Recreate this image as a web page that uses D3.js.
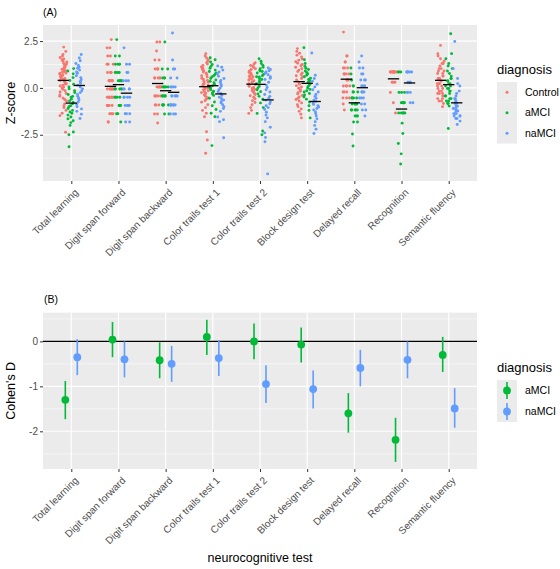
<!DOCTYPE html>
<html><head><meta charset="utf-8">
<script src="https://cdn.jsdelivr.net/npm/d3@7"></script>
<style>body{margin:0;background:#fff;} text{font-family:"Liberation Sans",Arial,sans-serif;}</style>
</head><body><svg id="chart" width="560" height="569"></svg>
<script>
const tests = ["Total learning","Digit span forward","Digit span backward","Color trails test 1","Color trails test 2","Block design test","Delayed recall","Recognition","Semantic fluency"];
const groups = ["Control","aMCI","naMCI"];
const groupColors = ["#F8766D","#00BA38","#619CFF"];
const zTicks = [2.5, 0, -2.5];
const dTicks = [0, -1, -2];

// Panel A: individual z-scores per test (same order as tests)
const zControl = [
 [2.18,1.95,1.78,1.7,1.62,1.55,1.5,1.42,1.38,1.3,1.28,1.2,1.15,1.12,1.05,1.0,0.98,0.92,0.88,0.85,0.8,0.78,0.72,0.7,0.65,0.6,0.58,0.52,0.5,0.45,0.4,0.38,0.32,0.28,0.22,0.2,0.15,0.1,0.05,0.0,-0.08,-0.15,-0.22,-0.3,-0.38,-0.45,-0.55,-0.62,-0.7,-0.85,-0.95,-1.05,-1.2,-1.35,-1.48,-2.37],
 [2.58,2.14,2.14,1.7,1.7,1.26,1.26,1.26,0.82,0.82,0.82,0.82,0.82,0.38,0.38,0.38,0.38,0.38,0.38,0.38,-0.06,-0.06,-0.06,-0.06,-0.06,-0.06,-0.06,-0.06,-0.5,-0.5,-0.5,-0.5,-0.5,-0.5,-0.5,-0.5,-0.94,-0.94,-0.94,-0.94,-0.94,-1.38,-1.38,-1.38,-1.82,-1.82],
 [2.45,2.45,1.97,1.49,1.49,1.01,1.01,1.01,1.01,0.53,0.53,0.53,0.53,0.53,0.05,0.05,0.05,0.05,0.05,0.05,-0.43,-0.43,-0.43,-0.43,-0.43,-0.91,-0.91,-0.91,-1.39,-1.39,-1.87],
 [1.83,1.7,1.6,1.5,1.42,1.35,1.28,1.2,1.12,1.05,0.98,0.9,0.85,0.78,0.7,0.65,0.58,0.52,0.45,0.4,0.35,0.3,0.25,0.2,0.15,0.1,0.05,0.0,-0.05,-0.1,-0.15,-0.2,-0.25,-0.3,-0.38,-0.45,-0.52,-0.6,-0.68,-0.76,-0.9,-1.05,-1.2,-1.35,-1.54,-2.34,-2.78,-3.49],
 [1.35,1.28,1.2,1.15,1.1,1.02,0.98,0.92,0.88,0.82,0.78,0.72,0.68,0.62,0.58,0.52,0.48,0.42,0.38,0.32,0.28,0.22,0.18,0.12,0.08,0.02,-0.02,-0.08,-0.12,-0.18,-0.22,-0.28,-0.35,-0.42,-0.5,-0.58,-0.68,-0.78,-0.9,-1.05,-1.2,-1.36],
 [2.1,1.95,1.85,1.75,1.65,1.55,1.48,1.4,1.32,1.25,1.18,1.1,1.02,0.95,0.88,0.8,0.72,0.65,0.58,0.5,0.42,0.35,0.28,0.2,0.12,0.05,-0.02,-0.1,-0.18,-0.25,-0.32,-0.4,-0.48,-0.55,-0.62,-0.7,-0.8,-0.9,-1.0,-1.12,-1.25,-1.4,-1.6],
 [2.98,1.7,1.7,1.38,1.38,1.06,1.06,1.06,0.74,0.74,0.74,0.74,0.42,0.42,0.42,0.42,0.1,0.1,0.1,0.1,-0.22,-0.22,-0.22,-0.54,-0.54,-0.54,-0.86,-1.18],
 [0.85,0.85,0.85,0.85,0.85,0.85,0.85,0.85,0.85,0.85,0.85,0.85,0.3,0.3,0.3,-0.24,-0.79,-1.34],
 [2.27,1.83,1.7,1.56,1.43,1.3,1.3,1.17,1.03,1.03,0.9,0.9,0.77,0.77,0.63,0.63,0.5,0.5,0.5,0.37,0.37,0.23,0.23,0.23,0.1,0.1,-0.03,-0.03,-0.17,-0.17,-0.3,-0.3,-0.3,-0.43,-0.57,-0.57,-0.7,-0.7,-0.83,-1.0]
];
const zAMCI = [
 [1.03,0.9,0.75,0.55,0.4,0.2,0.05,-0.05,-0.15,-0.25,-0.35,-0.45,-0.5,-0.6,-0.7,-0.78,-0.85,-0.95,-1.0,-1.1,-1.2,-1.28,-1.35,-1.45,-1.55,-1.65,-1.75,-1.85,-2.0,-2.35,-2.5,-3.14],
 [2.58,1.7,1.7,1.26,1.26,1.26,0.82,0.82,0.82,0.82,0.38,0.38,0.38,0.38,0.38,-0.06,-0.06,-0.06,-0.06,-0.06,-0.5,-0.5,-0.5,-0.5,-0.94,-0.94,-0.94,-1.38,-1.38,-1.82],
 [2.45,1.01,1.01,0.53,0.53,0.53,0.05,0.05,0.05,0.05,0.05,-0.43,-0.43,-0.43,-0.43,-0.43,-0.43,-0.91,-0.91,-0.91,-0.91,-0.91,-1.39,-1.39],
 [1.61,1.5,1.38,1.25,1.15,1.05,0.95,0.88,0.8,0.72,0.65,0.58,0.5,0.42,0.35,0.28,0.2,0.12,0.05,-0.02,-0.1,-0.18,-0.25,-0.32,-0.4,-0.55,-0.75,-0.95,-1.15,-1.35,-1.54,-3.08],
 [1.56,1.42,1.3,1.2,1.1,1.02,0.95,0.9,0.88,0.8,0.72,0.65,0.6,0.58,0.5,0.45,0.38,0.3,0.22,0.15,0.08,0.0,-0.1,-0.2,-0.32,-0.45,-0.6,-0.8,-1.05,-1.36,-2.3,-2.5],
 [2.15,1.5,1.3,1.15,1.05,0.98,0.9,0.82,0.75,0.68,0.6,0.52,0.45,0.38,0.3,0.22,0.15,0.08,0.0,-0.08,-0.15,-0.22,-0.3,-0.38,-0.48,-0.6,-0.75,-0.95,-1.2,-1.6],
 [1.06,0.74,0.42,0.42,0.1,0.1,-0.22,-0.22,-0.22,-0.54,-0.54,-0.54,-0.54,-0.86,-0.86,-0.86,-0.86,-0.86,-1.18,-1.18,-1.18,-1.18,-1.18,-1.5,-1.5,-1.5,-1.82,-1.82,-2.46,-3.1],
 [0.85,0.85,0.85,-0.24,-0.24,-0.24,-0.79,-0.79,-0.79,-0.79,-0.79,-1.34,-1.34,-1.34,-1.34,-1.34,-1.88,-2.43,-2.97,-3.52,-4.06],
 [2.89,1.83,1.56,1.3,1.17,1.03,0.9,0.77,0.63,0.5,0.5,0.37,0.37,0.23,0.23,0.1,0.1,-0.03,-0.03,-0.17,-0.17,-0.3,-0.43,-0.43,-0.57,-0.57,-0.7,-0.7,-0.83,-0.83,-0.97,-2.17]
];
const zNAMCI = [
 [1.78,1.6,1.45,1.3,1.2,1.1,1.05,0.95,0.85,0.78,0.65,0.55,0.45,0.35,0.25,0.15,0.05,-0.05,-0.15,-0.25,-0.35,-0.45,-0.55,-0.65,-0.75,-0.88,-1.0,-1.12,-1.25,-1.4,-1.63],
 [2.14,1.26,1.26,0.82,0.82,0.38,0.38,0.38,-0.06,-0.06,-0.06,-0.06,-0.5,-0.5,-0.5,-0.5,-0.94,-0.94,-0.94,-0.94,-0.94,-1.38,-1.38,-1.38,-1.82,-1.82],
 [2.93,1.49,1.01,1.01,0.53,0.53,0.05,0.05,0.05,0.05,-0.43,-0.43,-0.43,-0.43,-0.43,-0.43,-0.91,-0.91,-0.91,-0.91,-0.91,-0.91,-0.91,-0.91,-1.39,-1.39,-1.39],
 [1.17,1.1,0.95,0.85,0.75,0.62,0.5,0.4,0.3,0.2,0.1,0.0,-0.1,-0.2,-0.3,-0.4,-0.5,-0.58,-0.65,-0.72,-0.8,-0.9,-1.0,-1.1,-1.25,-1.55,-1.7,-1.8,-2.66],
 [1.06,0.98,0.92,0.85,0.78,0.7,0.6,0.52,0.45,0.3,0.15,0.02,-0.1,-0.22,-0.35,-0.45,-0.55,-0.65,-0.75,-0.85,-0.95,-1.05,-1.15,-1.3,-1.45,-1.6,-1.8,-2.1,-2.4,-2.65,-2.87,-4.59],
 [1.86,0.68,0.5,0.35,0.2,0.05,-0.1,-0.22,-0.35,-0.45,-0.55,-0.65,-0.72,-0.8,-0.88,-0.95,-1.02,-1.1,-1.18,-1.28,-1.38,-1.5,-1.65,-1.8,-2.0,-2.2,-2.43],
 [1.7,1.38,1.06,1.06,0.74,0.74,0.42,0.42,0.42,0.1,0.1,0.1,0.1,-0.22,-0.22,-0.22,-0.22,-0.54,-0.54,-0.54,-0.86,-0.86,-1.18,-1.18,-1.5],
 [0.85,0.85,0.85,0.85,0.85,0.85,0.3,0.3,0.3,-0.24,-0.24,-0.24,-0.79,-0.79],
 [2.48,1.03,0.5,0.23,0.1,-0.17,-0.3,-0.43,-0.57,-0.57,-0.7,-0.7,-0.83,-0.83,-0.97,-0.97,-0.97,-1.1,-1.1,-1.1,-1.23,-1.23,-1.23,-1.37,-1.37,-1.37,-1.5,-1.5,-1.5,-1.63,-1.63,-1.77,-1.95]
];

// Panel B: Cohen's D with confidence intervals
const dAMCI    = [-1.30, 0.04, -0.42, 0.10, 0.00, -0.07, -1.60, -2.19, -0.30];
const dAMCIlo  = [-1.73, -0.35, -0.82, -0.30, -0.40, -0.47, -2.03, -2.68, -0.68];
const dAMCIhi  = [-0.88, 0.43, -0.02, 0.48, 0.40, 0.31, -1.15, -1.70, 0.10];
const dNAMCI   = [-0.35, -0.40, -0.50, -0.37, -0.95, -1.06, -0.59, -0.41, -1.49];
const dNAMCIlo = [-0.75, -0.80, -0.90, -0.77, -1.37, -1.49, -1.00, -0.82, -1.92];
const dNAMCIhi = [0.05, 0.00, -0.10, 0.03, -0.53, -0.65, -0.19, 0.00, -1.04];

const svg = d3.select("#chart");
svg.append("rect").attr("width",560).attr("height",569).attr("fill","#fff");

const L = 43, R = 477;
const A = {top:25, bottom:181};
const B = {top:312.7, bottom:469};

function expand(ext){ const r = ext[1]-ext[0]; return [ext[0]-0.05*r, ext[1]+0.05*r]; }

const x = d3.scalePoint().domain(tests).range([L, R]).padding(0.6);
const step = x.step();

// deterministic horizontal jitter offset in [-0.5, 0.5) (position only)
function jit(i, t, g){
  let h = (i + 1) * 374761393 + (t + 1) * 668265263 + (g + 1) * 2246822519;
  h = Math.imul(h ^ (h >>> 13), 1274126177);
  h = (h ^ (h >>> 16)) >>> 0;
  return (h % 10000) / 10000 - 0.5;
}

// ---------- Panel A ----------
const zAll = [zControl, zAMCI, zNAMCI];
const zExt = expand(d3.extent(zAll.flat(2)));
const yA = d3.scaleLinear().domain(zExt).range([A.bottom, A.top]);

function panelBg(P, y, major, minor, fmt){
  const g = svg.append("g");
  g.append("rect").attr("x",L).attr("y",P.top).attr("width",R-L).attr("height",P.bottom-P.top).attr("fill","#EBEBEB");
  g.selectAll(".mn").data(minor.filter(v=>v>=y.domain()[0]&&v<=y.domain()[1])).join("line")
    .attr("x1",L).attr("x2",R).attr("y1",d=>y(d)).attr("y2",d=>y(d)).attr("stroke","#fff").attr("stroke-width",0.55);
  g.selectAll(".mj").data(major).join("line")
    .attr("x1",L).attr("x2",R).attr("y1",d=>y(d)).attr("y2",d=>y(d)).attr("stroke","#fff").attr("stroke-width",1.1);
  g.selectAll(".vx").data(tests).join("line")
    .attr("x1",d=>x(d)).attr("x2",d=>x(d)).attr("y1",P.top).attr("y2",P.bottom).attr("stroke","#fff").attr("stroke-width",1.1);
  const ya = svg.append("g").attr("transform",`translate(${L},0)`)
    .call(d3.axisLeft(y).tickValues(major).tickSize(3).tickPadding(2));
  ya.select(".domain").remove();
  ya.selectAll(".tick line").attr("stroke","#333");
  ya.selectAll(".tick text").attr("fill","#4D4D4D").attr("font-size","10px").text(d=>fmt(d));
  const xa = svg.append("g").attr("transform",`translate(0,${P.bottom})`)
    .call(d3.axisBottom(x).tickSize(3).tickPadding(2));
  xa.select(".domain").remove();
  xa.selectAll(".tick line").attr("stroke","#333");
  xa.selectAll(".tick text").attr("fill","#4D4D4D").attr("font-size","10px")
    .attr("text-anchor","end").attr("y",0).attr("dy","0.72em")
    .attr("transform","translate(2,7) rotate(-45)");
}
panelBg(A, yA, zTicks, [3.75,1.25,-1.25,-3.75], d=>d3.format(".1f")(d).replace("−","-"));

const dodgeA = [-0.17, 0, 0.17];
const gPts = svg.append("g");
zAll.forEach((grp, gi) => {
  grp.forEach((vals, ti) => {
    const cx = x(tests[ti]) + dodgeA[gi]*step;
    gPts.selectAll(null).data(vals).join("circle")
      .attr("cx",(d,i)=> cx + jit(i, ti, gi)*0.15*step)
      .attr("cy",d=>yA(d)).attr("r",1.45).attr("fill",groupColors[gi]);
  });
});
const gMean = svg.append("g");
zAll.forEach((grp, gi) => {
  grp.forEach((vals, ti) => {
    const cx = x(tests[ti]) + dodgeA[gi]*step;
    const m = d3.mean(vals);
    gMean.append("line").attr("x1",cx-0.12*step).attr("x2",cx+0.12*step)
      .attr("y1",yA(m)).attr("y2",yA(m)).attr("stroke","#000").attr("stroke-width",1.3);
  });
});

// ---------- Panel B ----------
const dExt = expand(d3.extent(dAMCIlo.concat(dAMCIhi, dNAMCIlo, dNAMCIhi)));
const yB = d3.scaleLinear().domain(dExt).range([B.bottom, B.top]);
panelBg(B, yB, dTicks, [0.5,-0.5,-1.5,-2.5], d=>d3.format("d")(d).replace("−","-"));
svg.append("line").attr("x1",L).attr("x2",R).attr("y1",yB(0)).attr("y2",yB(0)).attr("stroke","#000").attr("stroke-width",1.1);

const effSets = [
  {est:dAMCI, lo:dAMCIlo, hi:dAMCIhi, color:groupColors[1], off:-0.127},
  {est:dNAMCI, lo:dNAMCIlo, hi:dNAMCIhi, color:groupColors[2], off:0.127}
];
effSets.forEach(s => {
  const g = svg.append("g");
  g.selectAll("line").data(tests).join("line")
    .attr("x1",(d)=>x(d)+s.off*step).attr("x2",(d)=>x(d)+s.off*step)
    .attr("y1",(d,i)=>yB(s.lo[i])).attr("y2",(d,i)=>yB(s.hi[i]))
    .attr("stroke",s.color).attr("stroke-width",1.6);
  g.selectAll("circle").data(tests).join("circle")
    .attr("cx",(d)=>x(d)+s.off*step).attr("cy",(d,i)=>yB(s.est[i])).attr("r",3.9).attr("fill",s.color);
});

// ---------- Titles / labels ----------
svg.append("text").attr("x",43).attr("y",15.5).attr("font-size","10.5px").attr("fill","#000").text("(A)");
svg.append("text").attr("x",44).attr("y",303).attr("font-size","10.5px").attr("fill","#000").text("(B)");
svg.append("text").attr("transform",`translate(15,${(A.top+A.bottom)/2}) rotate(-90)`).attr("text-anchor","middle")
  .attr("font-size","12.5px").attr("fill","#000").text("Z-score");
svg.append("text").attr("transform",`translate(15,${(B.top+B.bottom)/2}) rotate(-90)`).attr("text-anchor","middle")
  .attr("font-size","12.5px").attr("fill","#000").text("Cohen's D");
svg.append("text").attr("x",(L+R)/2).attr("y",562).attr("text-anchor","middle").attr("font-size","12.5px").attr("fill","#000").text("neurocognitive test");

// ---------- Legends ----------
function legend(top, keys, cols, keyH, kind){
  const g = svg.append("g");
  g.append("text").attr("x",497).attr("y",top).attr("font-size","13px").attr("fill","#000").text("diagnosis");
  const y0 = top + 8;
  keys.forEach((k,i)=>{
    const ky = y0 + i*keyH;
    g.append("rect").attr("x",497).attr("y",ky).attr("width",20).attr("height",keyH).attr("fill","#EBEBEB");
    if (kind === "pt") {
      g.append("circle").attr("cx",507).attr("cy",ky+keyH/2).attr("r",1.5).attr("fill",cols[i]);
    } else {
      g.append("line").attr("x1",507).attr("x2",507).attr("y1",ky+2).attr("y2",ky+keyH-2).attr("stroke",cols[i]).attr("stroke-width",1.6);
      g.append("circle").attr("cx",507).attr("cy",ky+keyH/2).attr("r",3.9).attr("fill",cols[i]);
    }
    g.append("text").attr("x",525).attr("y",ky+keyH/2).attr("dy","0.35em").attr("font-size","10.5px").attr("fill","#000").text(k);
  });
}
legend(74, groups, groupColors, 20.5, "pt");
legend(372, groups.slice(1), groupColors.slice(1), 21, "pr");
</script></body></html>
